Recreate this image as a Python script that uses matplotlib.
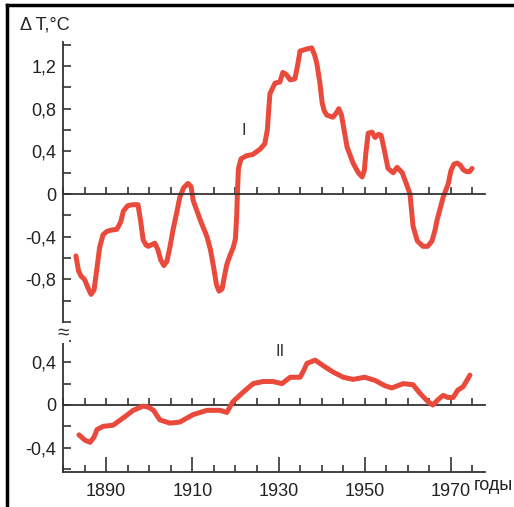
import numpy as np
import matplotlib
matplotlib.use('Agg')
import matplotlib.pyplot as plt
from matplotlib.lines import Line2D
from matplotlib.ticker import MultipleLocator

# curve I (upper panel)
years_1 = [1883, 1883.6, 1884.2, 1885, 1885.8, 1886.5, 1887.2, 1887.8, 1888.5, 1889.3,
           1890.2, 1891, 1892.5, 1893.4, 1894, 1895, 1896.2, 1897.4, 1898, 1898.6,
           1899.3, 1899.8, 1901.3, 1902, 1902.7, 1903.4, 1904.1, 1904.8, 1905.5, 1906.4,
           1907.1, 1908, 1909, 1909.7, 1910.2, 1911, 1911.8, 1913.4, 1914.2, 1915,
           1915.6, 1916.2, 1916.9, 1917.4, 1918, 1918.7, 1919.5, 1920, 1920.3, 1920.5,
           1920.7, 1921.3, 1922.6, 1924, 1925.7, 1926.8, 1927.4, 1928, 1929.2, 1930.3,
           1931, 1931.8, 1932.7, 1933.8, 1934.4, 1935, 1936.6, 1937.7, 1938.4, 1938.9,
           1939.6, 1940.1, 1940.6, 1941.2, 1942.6, 1943.4, 1944, 1944.6, 1945.3, 1945.9,
           1947.3, 1948.5, 1949.4, 1949.9, 1950.3, 1950.8, 1951.7, 1952.4, 1953.2, 1953.8,
           1954.4, 1955.4, 1956.6, 1957.5, 1958.7, 1959.8, 1960.5, 1961.2, 1962.2, 1963.5,
           1964.6, 1965.6, 1966.3, 1966.8, 1968.2, 1969.4, 1970, 1970.7, 1971.4, 1972.2,
           1972.8, 1973.6, 1974.3, 1974.9]
temp_1 = [-0.58, -0.72, -0.77, -0.8, -0.88, -0.94, -0.9, -0.72, -0.5, -0.38,
          -0.35, -0.34, -0.33, -0.26, -0.16, -0.11, -0.1, -0.1, -0.25, -0.43,
          -0.48, -0.49, -0.46, -0.52, -0.62, -0.67, -0.63, -0.5, -0.34, -0.17,
          -0.03, 0.06, 0.1, 0.07, -0.06, -0.15, -0.24, -0.4, -0.52, -0.7,
          -0.85, -0.91, -0.89, -0.78, -0.66, -0.58, -0.5, -0.42, -0.2, 0.05,
          0.24, 0.33, 0.36, 0.37, 0.42, 0.47, 0.6, 0.94, 1.04, 1.05,
          1.14, 1.12, 1.07, 1.08, 1.2, 1.34, 1.36, 1.37, 1.3, 1.22,
          1.04, 0.86, 0.78, 0.74, 0.72, 0.76, 0.8, 0.74, 0.58, 0.44,
          0.29, 0.2, 0.16, 0.22, 0.4, 0.57, 0.58, 0.53, 0.56, 0.55,
          0.44, 0.24, 0.2, 0.25, 0.2, 0.08, 0.0, -0.3, -0.44, -0.49,
          -0.49, -0.44, -0.34, -0.24, -0.03, 0.1, 0.22, 0.28, 0.29, 0.27,
          0.23, 0.21, 0.21, 0.24]

# curve II (lower panel)
years_2 = [1883.7, 1885.1, 1886.3, 1887.2, 1887.9, 1889.3, 1891.6, 1894, 1896.3, 1898.6,
           1899.8, 1901, 1901.8, 1902.5, 1904.8, 1907.1, 1910.2, 1913.4, 1916.4, 1918,
           1919.4, 1921.8, 1924.1, 1926.4, 1928.7, 1930.8, 1932.7, 1935, 1935.8, 1936.6,
           1938.5, 1940.3, 1942.6, 1945, 1947.3, 1950, 1952.4, 1954.7, 1956.3, 1958.9,
           1961.2, 1962.8, 1964.7, 1965.8, 1967, 1968.2, 1969.3, 1970.5, 1971.6, 1972.8,
           1973.7, 1974.4]
temp_2 = [-0.28, -0.33, -0.35, -0.3, -0.23, -0.2, -0.19, -0.12, -0.05, -0.01,
          -0.02, -0.05, -0.1, -0.14, -0.17, -0.16, -0.09, -0.05, -0.05, -0.07,
          0.03, 0.12, 0.2, 0.22, 0.22, 0.2, 0.26, 0.26, 0.32, 0.39,
          0.42, 0.37, 0.31, 0.26, 0.24, 0.26, 0.23, 0.18, 0.16, 0.2,
          0.19, 0.11, 0.03, 0.0, 0.05, 0.09, 0.07, 0.07, 0.14, 0.17,
          0.23, 0.28]

top_ticks = [-0.8, -0.4, 0, 0.4, 0.8, 1.2]
top_labels = ['-0,8', '-0,4', '0', '0,4', '0,8', '1,2']
bot_ticks = [-0.4, 0, 0.4]
bot_labels = ['-0,4', '0', '0,4']
year_ticks = [1890, 1910, 1930, 1950, 1970]

plt.rcParams['font.family'] = ['Liberation Sans', 'DejaVu Sans']
plt.rcParams['font.size'] = 13
red = '#ea4a3c'
dark = '#333333'
W, H = 514, 507

fig = plt.figure(figsize=(W / 100, H / 100), dpi=100)

def box(l, t, r, b):
    return [l / W, 1 - b / H, (r - l) / W, (b - t) / H]

ax1 = fig.add_axes(box(63, 42, 485, 332))
ax2 = fig.add_axes(box(63, 332, 485, 472))

for ax in (ax1, ax2):
    ax.set_xlim(1880, 1977.9)
    ax.patch.set_alpha(0)
    ax.spines['top'].set_visible(False)
    ax.spines['right'].set_visible(False)
    ax.spines['left'].set_color(dark)
    ax.spines['left'].set_linewidth(1.3)
    ax.spines['bottom'].set_color(dark)
    ax.spines['bottom'].set_linewidth(1.3)
    ax.tick_params(axis='y', which='both', direction='in', length=6, width=1.2,
                   color=dark, pad=5, labelsize=13, labelcolor='#222222')
    ax.xaxis.set_minor_locator(MultipleLocator(5))

# upper panel
ax1.set_ylim(-1.293, 1.425)
ax1.set_yticks(top_ticks, top_labels)
ax1.yaxis.set_minor_locator(MultipleLocator(0.2))
ax1.spines['bottom'].set_position(('data', 0))
ax1.set_xticks(year_ticks)
ax1.tick_params(axis='x', which='both', direction='in', length=5, width=1.2,
                color=dark, labelbottom=False)
ax1.plot(years_1, temp_1, color=red, lw=3.6, solid_joinstyle='round', solid_capstyle='round')
ax1.text(1922, 0.6, 'I', fontsize=12, ha='center', va='center', color='#333333')

# lower panel
ax2.set_ylim(-0.628, 0.684)
ax2.set_yticks(bot_ticks, bot_labels)
ax2.yaxis.set_minor_locator(MultipleLocator(0.2))
ax2.set_xticks(year_ticks)
ax2.tick_params(axis='x', which='major', direction='in', length=11, width=1.2,
                color=dark, pad=8, labelsize=13, labelcolor='#222222')
ax2.tick_params(axis='x', which='minor', direction='in', length=5, width=1.2, color=dark)
zero_frac = (0 - ax2.get_ylim()[0]) / (ax2.get_ylim()[1] - ax2.get_ylim()[0])
sec = ax2.secondary_xaxis(zero_frac)
sec.set_xticks(year_ticks)
sec.xaxis.set_minor_locator(MultipleLocator(5))
sec.spines['bottom'].set_color(dark)
sec.spines['bottom'].set_linewidth(1.3)
sec.tick_params(axis='x', which='both', direction='in', length=5, width=1.2,
                color=dark, labelbottom=False, labeltop=False)
ax2.plot(years_2, temp_2, color=red, lw=3.6, solid_joinstyle='round', solid_capstyle='round')
ax2.text(1930.3, 0.5, 'II', fontsize=12, ha='center', va='center', color='#333333')

# axis break mark and labels
fig.text(63 / W, 1 - 333 / H, '≈', fontsize=15, ha='center', va='center',
         color=dark, bbox=dict(fc='white', ec='none', pad=0.3))
fig.text(20 / W, 1 - 25 / H, 'Δ T,°C', fontsize=13, ha='left', va='center', color='#222222')
fig.text(474 / W, 1 - 485 / H, 'годы', fontsize=13, ha='left', va='center', color='#222222')

# frame
fig.add_artist(Line2D([7 / W, 7 / W], [0, 1 - 5 / H], color='black', lw=2.5))
fig.add_artist(Line2D([7 / W, 1], [1 - 5 / H, 1 - 5 / H], color='black', lw=2.5))

fig.savefig('out.png', dpi=100)
